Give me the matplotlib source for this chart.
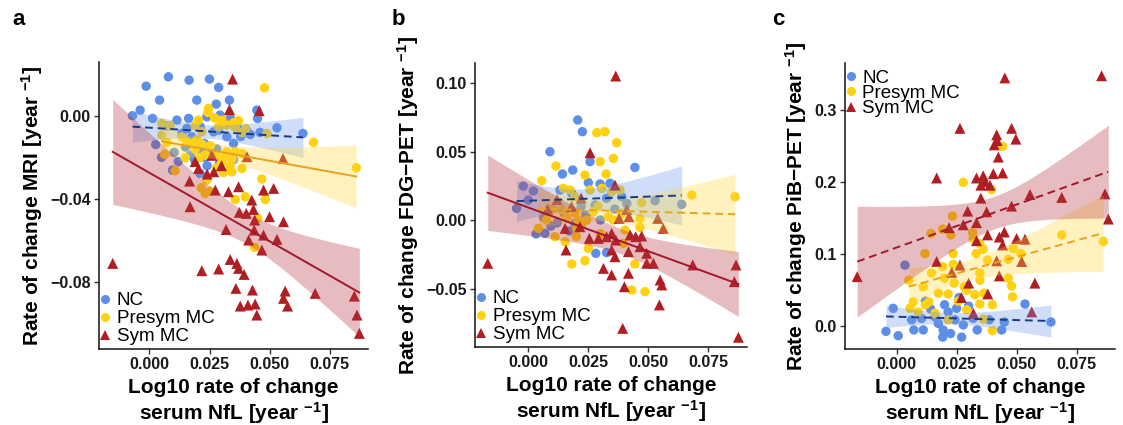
import numpy as np
import matplotlib
matplotlib.use('Agg')
import matplotlib.pyplot as plt
from matplotlib.lines import Line2D

plt.rcParams['font.family'] = ['Liberation Sans', 'DejaVu Sans']
plt.rcParams['mathtext.fontset'] = 'custom'
plt.rcParams['mathtext.rm'] = 'Liberation Sans:bold'
plt.rcParams['mathtext.bf'] = 'Liberation Sans:bold'
plt.rcParams['mathtext.default'] = 'bf'

# ---------------- data ----------------
groups = ['NC', 'Presym MC', 'Sym MC']

# panel a : MRI
a_nc_x = [-0.0071, -0.0039, -0.0014, 0.0013, 0.0042, 0.0079, 0.0165, 0.0197, 0.0250, 0.0288, 0.0278, 0.0163,
          0.0333, 0.0336, 0.0447, 0.0450, 0.0531, 0.0639, 0.0026, 0.0103, 0.0096, 0.0211, 0.0188, 0.0267,
          0.0228, 0.0288, 0.0364, 0.0211, 0.0135, 0.0239, 0.0322, 0.0114, 0.0406, 0.0075, 0.0176, 0.0350,
          0.0294, 0.0156, 0.0220, 0.0280, 0.0150, 0.0300, 0.0240,
          0.0050, 0.0120, 0.0170, 0.0200, 0.0230, 0.0260, 0.0290, 0.0320, 0.0350, 0.0380, 0.0420, 0.0460]
a_nc_y = [0.0000, 0.0027, 0.0142, -0.0013, 0.0075, 0.0187, 0.0171, 0.0075, 0.0176, 0.0136, 0.0056, -0.0013,
          0.0075, -0.0008, 0.0027, -0.0013, -0.0058, -0.0085, -0.0138, -0.0176, -0.0261, -0.0277, -0.0213, -0.0077,
          -0.0133, -0.0069, -0.0053, -0.0053, -0.0085, -0.0005, -0.0101, -0.0021, -0.0074, -0.0050, -0.0101, -0.0133,
          0.0003, -0.0061, -0.0180, -0.0160, -0.0150, -0.0220, -0.0240,
          -0.0200, -0.0220, -0.0190, -0.0150, -0.0200, -0.0170, -0.0230, -0.0180, -0.0210, -0.0100, -0.0090, -0.0080]

a_pre_x = [0.0479, 0.0246, 0.0243, 0.0271, 0.0301, 0.0288, 0.0322, 0.0350, 0.0371, 0.0357, 0.0204, 0.0190,
           0.0218, 0.0051, 0.0086, 0.0051, 0.0072, 0.0135, 0.0156, 0.0183, 0.0197, 0.0218, 0.0253, 0.0190,
           0.0232, 0.0211, 0.0149, 0.0274, 0.0308, 0.0322, 0.0357, 0.0385, 0.0343, 0.0301, 0.0336, 0.0281,
           0.0308, 0.0343, 0.0385, 0.0063, 0.0107, 0.0239, 0.0385, 0.0401, 0.0489, 0.0468, 0.0215, 0.0232,
           0.0253, 0.0357, 0.0399, 0.0482, 0.0451, 0.0438, 0.0683, 0.0861]
a_pre_y = [0.0134, 0.0035, 0.0016, -0.0010, -0.0021, -0.0053, -0.0045, -0.0034, -0.0024, -0.0056, -0.0021, -0.0048,
           -0.0077, -0.0037, -0.0048, -0.0093, -0.0128, -0.0101, -0.0125, -0.0133, -0.0114, -0.0136, -0.0144, -0.0160,
           -0.0189, -0.0200, -0.0202, -0.0189, -0.0197, -0.0173, -0.0173, -0.0181, -0.0208, -0.0224, -0.0240, -0.0248,
           -0.0272, -0.0269, -0.0253, -0.0186, -0.0264, -0.0309, -0.0080, -0.0061, -0.0085, -0.0304, -0.0346, -0.0373,
           -0.0362, -0.0402, -0.0389, -0.0402, -0.0493, -0.0632, -0.0128, -0.0250]

a_sym_x = [-0.0153, 0.0346, 0.0333, 0.0457, 0.0556, 0.0406, 0.0204, 0.0268, 0.0167, 0.0169, 0.0274, 0.0329,
           0.0371, 0.0374, 0.0426, 0.0433, 0.0438, 0.0517, 0.0475, 0.0558, 0.0500, 0.0403, 0.0319, 0.0436,
           0.0475, 0.0413, 0.0531, 0.0468, 0.0336, 0.0364, 0.0371, 0.0394, 0.0288, 0.0218, 0.0360, 0.0429,
           0.0378, 0.0410, 0.0440, 0.0447, 0.0565, 0.0558, 0.0575, 0.0690, 0.0853, 0.0864, 0.0874,
           0.0190, 0.0240, 0.0300, 0.0260]
a_sym_y = [-0.0709, 0.0176, 0.0030, 0.0024, -0.0206, -0.0197, -0.0253, -0.0269, -0.0314, -0.0437, -0.0357, -0.0365,
           -0.0341, -0.0464, -0.0405, -0.0450, -0.0501, -0.0349, -0.0357, -0.0509, -0.0485, -0.0469, -0.0546, -0.0549,
           -0.0573, -0.0597, -0.0594, -0.0645, -0.0690, -0.0709, -0.0733, -0.0762, -0.0736, -0.0744, -0.0829, -0.0837,
           -0.0914, -0.0909, -0.0904, -0.0957, -0.0842, -0.0877, -0.0914, -0.0853, -0.0866, -0.0957, -0.1045,
           -0.0220, -0.0280, -0.0240, -0.0190]

# panel b : FDG-PET
b_nc_x = [0.0206, 0.0225, 0.0090, 0.0185, 0.0142, 0.0444, 0.0257, -0.0021, 0.0021, -0.0049, 0.0000, 0.0132,
          0.0181, 0.0250, 0.0299, 0.0340, 0.0389, 0.0278, 0.0326, 0.0032, 0.0069, 0.0094, 0.0063, 0.0281,
          0.0326, 0.0194, 0.0528, 0.0639, 0.0150, 0.0220, 0.0300, 0.0120, 0.0360, 0.0410, 0.0170, 0.0240]
b_nc_y = [0.0730, 0.0645, 0.0499, 0.0365, 0.0336, 0.0384, 0.0426, 0.0248, 0.0212, 0.0085, 0.0146, 0.0219,
          0.0195, 0.0273, 0.0263, 0.0268, 0.0170, 0.0109, 0.0158, -0.0102, -0.0097, -0.0044, 0.0019, -0.0243,
          -0.0238, -0.0024, 0.0141, 0.0114, 0.0050, 0.0100, 0.0000, -0.0020, 0.0080, 0.0120, -0.0080, 0.0040]

b_pre_x = [0.0285, 0.0319, 0.0368, 0.0354, 0.0299, 0.0115, 0.0236, 0.0324, 0.0056, 0.0257, 0.0306, 0.0146,
           0.0194, 0.0347, 0.0382, 0.0472, 0.0042, 0.0076, 0.0111, 0.0153, 0.0201, 0.0222, 0.0243, 0.0139,
           0.0194, 0.0208, 0.0271, 0.0333, 0.0354, 0.0389, 0.0465, 0.0465, 0.0250, 0.0181, 0.0236, 0.0396,
           0.0444, 0.0431, 0.0486, 0.0681, 0.0861, 0.0403, 0.0174, 0.0290, 0.0160, 0.0100, 0.0200, 0.0300]
b_pre_y = [0.0637, 0.0645, 0.0564, 0.0450, 0.0426, 0.0394, 0.0328, 0.0336, 0.0287, 0.0219, 0.0231, 0.0231,
           0.0170, 0.0207, 0.0219, 0.0127, -0.0061, 0.0000, -0.0122, -0.0158, -0.0061, -0.0036, 0.0000, 0.0073,
           0.0054, 0.0000, 0.0061, 0.0024, 0.0000, 0.0049, 0.0012, -0.0054, -0.0207, -0.0321, -0.0297, -0.0170,
           -0.0321, -0.0511, -0.0523, 0.0182, 0.0170, -0.0073, 0.0219, 0.0100, 0.0020, 0.0080, -0.0120, -0.0100]

b_sym_x = [-0.0169, 0.0364, 0.0257, 0.0361, 0.0410, 0.0539, 0.0562, 0.0378, 0.0153, 0.0215, 0.0254, 0.0292,
           0.0326, 0.0347, 0.0424, 0.0447, 0.0472, 0.0364, 0.0157, 0.0347, 0.0361, 0.0417, 0.0465, 0.0493,
           0.0493, 0.0521, 0.0313, 0.0347, 0.0417, 0.0400, 0.0549, 0.0556, 0.0546, 0.0393, 0.0685, 0.0858,
           0.0865, 0.0875, 0.0419, 0.0120, 0.0180, 0.0220, 0.0080]
b_sym_y = [-0.0316, 0.1051, 0.0491, 0.0255, 0.0078, 0.0012, -0.0061, 0.0012, -0.0061, -0.0049, -0.0134, -0.0134,
           -0.0122, -0.0097, -0.0109, -0.0122, -0.0117, -0.0146, -0.0219, -0.0219, -0.0268, -0.0231, -0.0195, -0.0243,
           -0.0316, -0.0316, -0.0353, -0.0401, -0.0389, -0.0487, -0.0438, -0.0474, -0.0620, -0.0791, -0.0328, -0.0450,
           -0.0328, -0.0856, 0.0024, 0.0150, 0.0100, 0.0160, 0.0080]

# panel c : PiB-PET
c_nc_x = [0.0035, -0.0044, -0.0014, 0.0007, 0.0063, 0.0072, 0.0104, 0.0111, 0.0142, 0.0160, 0.0174, 0.0192,
          0.0194, 0.0215, 0.0225, 0.0243, 0.0271, 0.0250, 0.0278, 0.0336, 0.0386, 0.0438, 0.0449, 0.0535,
          0.0643, 0.0319, 0.0200, 0.0260, 0.0120, 0.0300]
c_nc_y = [0.085, -0.007, 0.025, -0.013, 0.009, -0.005, 0.011, -0.005, 0.024, 0.013, 0.004, -0.015,
          -0.005, 0.020, -0.010, 0.009, -0.015, 0.025, 0.002, -0.005, 0.009, -0.005, 0.006, 0.031,
          0.006, 0.011, 0.030, 0.040, 0.035, 0.028]

c_pre_x = [0.0442, 0.0278, 0.0396, 0.0233, 0.0192, 0.0143, 0.0226, 0.0317, 0.0319, 0.0347, 0.0118, 0.0236,
           0.0331, 0.0361, 0.0379, 0.0486, 0.0518, 0.0465, 0.0688, 0.0861, 0.0192, 0.0236, 0.0146, 0.0199,
           0.0240, 0.0282, 0.0347, 0.0347, 0.0465, 0.0479, 0.0483, 0.0051, 0.0111, 0.0174, 0.0215, 0.0292,
           0.0326, 0.0364, 0.0069, 0.0135, 0.0257, 0.0292, 0.0399, 0.0347, 0.0361, 0.0399, 0.0056, 0.0215,
           0.0090, 0.0160, 0.0120]
c_pre_y = [0.250, 0.200, 0.190, 0.153, 0.135, 0.129, 0.127, 0.130, 0.122, 0.115, 0.101, 0.101,
           0.101, 0.107, 0.092, 0.108, 0.101, 0.093, 0.127, 0.118, 0.083, 0.086, 0.074, 0.067,
           0.060, 0.055, 0.074, 0.064, 0.067, 0.056, 0.041, 0.064, 0.055, 0.046, 0.045, 0.050,
           0.044, 0.046, 0.034, 0.034, 0.035, 0.023, 0.030, 0.031, 0.010, -0.006, 0.025, 0.009,
           0.020, 0.018, 0.030]

c_sym_x = [-0.0164, 0.0451, 0.0854, 0.0264, 0.0479, 0.0497, 0.0417, 0.0419, 0.0407, 0.0424, 0.0442, 0.0403,
           0.0361, 0.0333, 0.0368, 0.0389, 0.0351, 0.0167, 0.0351, 0.0556, 0.0688, 0.0868, 0.0882, 0.0296,
           0.0375, 0.0479, 0.0219, 0.0278, 0.0333, 0.0379, 0.0449, 0.0428, 0.0442, 0.0500, 0.0535, 0.0333,
           0.0521, 0.0417, 0.0264, 0.0167, 0.0428, 0.0576, 0.0563, 0.0320, 0.0270, 0.0230, 0.0380, 0.0300]
c_sym_y = [0.069, 0.345, 0.348, 0.275, 0.275, 0.260, 0.266, 0.258, 0.252, 0.235, 0.213, 0.212,
           0.209, 0.206, 0.201, 0.196, 0.196, 0.206, 0.178, 0.183, 0.179, 0.184, 0.149, 0.160,
           0.159, 0.167, 0.137, 0.141, 0.144, 0.127, 0.131, 0.124, 0.113, 0.122, 0.121, 0.119,
           0.090, 0.091, 0.085, 0.090, 0.070, 0.060, 0.020, 0.018, 0.040, 0.075, 0.045, 0.060]

x_ticks = [0.000, 0.025, 0.050, 0.075]
x_ticklabels = ['0.000', '0.025', '0.050', '0.075']

panels = [
    dict(letter='a', ylabel='Rate of change MRI [year $^{-1}$]',
         data=[(a_nc_x, a_nc_y), (a_pre_x, a_pre_y), (a_sym_x, a_sym_y)],
         styles=['--', '-', '-'],
         yticks=[-0.08, -0.04, 0.00], yticklabels=['\u22120.08', '\u22120.04', '0.00'],
         ylim=(-0.112, 0.0258), xlim=(-0.0210, 0.091),
         pos=[0.0882, 0.1788, 0.2395, 0.6753], legend='lower', letter_x=12),
    dict(letter='b', ylabel='Rate of change FDG\u2212PET [year $^{-1}$]',
         data=[(b_nc_x, b_nc_y), (b_pre_x, b_pre_y), (b_sym_x, b_sym_y)],
         styles=['--', '--', '-'],
         yticks=[-0.05, 0.00, 0.05, 0.10], yticklabels=['\u22120.05', '0.00', '0.05', '0.10'],
         ylim=(-0.0927, 0.1146), xlim=(-0.0222, 0.091),
         pos=[0.4230, 0.1835, 0.2420, 0.6682], legend='lower', letter_x=392),
    dict(letter='c', ylabel='Rate of change PiB\u2212PET [year $^{-1}$]',
         data=[(c_nc_x, c_nc_y), (c_pre_x, c_pre_y), (c_sym_x, c_sym_y)],
         styles=['--', '--', '--'],
         yticks=[0.0, 0.1, 0.2, 0.3], yticklabels=['0.0', '0.1', '0.2', '0.3'],
         ylim=(-0.0315, 0.3657), xlim=(-0.0215, 0.091),
         pos=[0.7524, 0.1788, 0.2405, 0.6729], legend='upper', letter_x=772),
]

pt_colors = ['#5E8FE6', '#FFD10F', '#B01E23']
band_colors = ['#6A96EC', '#FFD83A', '#B2313B']
line_colors = ['#1B3A86', '#E8A21C', '#A3172B']
markers = ['o', 'o', '^']
sizes = [46, 46, 62]


def lm_band(x, y, t=2.01, n_grid=80):
    x = np.asarray(x, float)
    y = np.asarray(y, float)
    n = len(x)
    b1, b0 = np.polyfit(x, y, 1)
    xg = np.linspace(x.min(), x.max(), n_grid)
    yhat = b0 + b1 * xg
    resid = y - (b0 + b1 * x)
    s = np.sqrt(np.sum(resid ** 2) / (n - 2))
    sxx = np.sum((x - x.mean()) ** 2)
    se = s * np.sqrt(1.0 / n + (xg - x.mean()) ** 2 / sxx)
    return xg, yhat, yhat - t * se, yhat + t * se


fig = plt.figure(figsize=(11.23, 4.25), dpi=100)

for p in panels:
    ax = fig.add_axes(p['pos'])
    for gi, (x, y) in enumerate(p['data']):
        ax.scatter(x, y, s=sizes[gi], marker=markers[gi], color=pt_colors[gi],
                   edgecolors='none', zorder=2)
    for gi, (x, y) in enumerate(p['data']):
        xg, yh, lo, hi = lm_band(x, y)
        ax.fill_between(xg, lo, hi, color=band_colors[gi], alpha=0.32, lw=0, zorder=3)
    for gi, (x, y) in enumerate(p['data']):
        xg, yh, lo, hi = lm_band(x, y)
        ln, = ax.plot(xg, yh, color=line_colors[gi], lw=1.4, ls=p['styles'][gi], zorder=4)
        if p['styles'][gi] == '--':
            ln.set_dashes((4, 2.5))

    ax.set_xlim(*p['xlim'])
    ax.set_ylim(*p['ylim'])
    ax.set_xticks(x_ticks)
    ax.set_xticklabels(x_ticklabels)
    ax.set_yticks(p['yticks'])
    ax.set_yticklabels(p['yticklabels'])
    for sp in ['top', 'right']:
        ax.spines[sp].set_visible(False)
    for sp in ['left', 'bottom']:
        ax.spines[sp].set_linewidth(1.1)
        ax.spines[sp].set_color('#111111')
    ax.tick_params(axis='both', length=3.5, width=1.0, color='#333333',
                   labelsize=11.5, labelcolor='#1a1a1a', pad=2.5)
    for lab in ax.get_xticklabels() + ax.get_yticklabels():
        lab.set_fontweight('bold')
    ax.set_xlabel('Log10 rate of change\nserum NfL [year $^{-1}$]', fontsize=15,
                  fontweight='bold', linespacing=1.15, labelpad=4)
    ax.set_ylabel(p['ylabel'], fontsize=15, fontweight='bold', labelpad=4)

    handles = [Line2D([], [], ls='none', marker=markers[i], color=pt_colors[i],
                      markersize=6.5 if i < 2 else 7.5, markeredgewidth=0)
               for i in range(3)]
    if p['legend'] == 'lower':
        ax.legend(handles, groups, loc='lower left', bbox_to_anchor=(-0.015, 0.0),
                  frameon=False, fontsize=13.5, handlelength=0.7, handletextpad=0.25,
                  labelspacing=0.05, borderpad=0.2, borderaxespad=0.0)
    else:
        ax.legend(handles, groups, loc='upper left', bbox_to_anchor=(-0.015, 0.99),
                  frameon=False, fontsize=13.5, handlelength=0.7, handletextpad=0.25,
                  labelspacing=-0.1, borderpad=0.2, borderaxespad=0.0)

    fig.text(p['letter_x'] / 1123, 0.953, p['letter'], fontsize=16, fontweight='bold',
             ha='left', va='center')

fig.savefig('out.png', dpi=100)
